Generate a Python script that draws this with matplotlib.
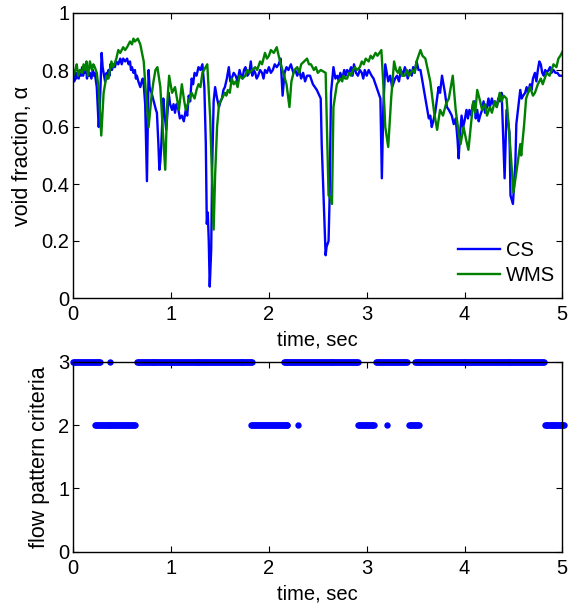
import matplotlib
matplotlib.use("Agg")
import matplotlib.pyplot as plt
import numpy as np

plt.rcParams['font.family'] = ['Liberation Sans', 'DejaVu Sans']
plt.rcParams['font.size'] = 14.5

# --- void fraction, capacitance sensor (CS) ---
t_cs = [0.00, 0.01, 0.02, 0.03, 0.04, 0.055, 0.07, 0.08, 0.09, 0.10, 0.11, 0.12,
        0.13, 0.14, 0.15, 0.16, 0.17, 0.185, 0.20, 0.21, 0.22, 0.24,
        0.26, 0.27, 0.28, 0.29, 0.30, 0.31, 0.325, 0.34, 0.35, 0.36, 0.37, 0.38,
        0.395, 0.41, 0.425, 0.44, 0.46, 0.48, 0.495, 0.51, 0.53,
        0.55, 0.565, 0.58, 0.59, 0.60, 0.615, 0.63, 0.64, 0.65, 0.665, 0.685, 0.70,
        0.71, 0.72, 0.735, 0.753, 0.77, 0.78,
        0.80, 0.815, 0.83, 0.845, 0.855, 0.87, 0.88, 0.89, 0.90, 0.92, 0.935, 0.95,
        0.965, 0.975, 0.99, 1.01, 1.025, 1.04, 1.055, 1.07, 1.09, 1.11, 1.13, 1.15,
        1.165, 1.18, 1.195, 1.21, 1.225, 1.24, 1.26, 1.28, 1.30,
        1.32, 1.34, 1.355, 1.365, 1.375, 1.385, 1.395, 1.41, 1.42, 1.435, 1.45, 1.47,
        1.49, 1.505, 1.52, 1.535, 1.55, 1.57, 1.59, 1.605, 1.62, 1.64, 1.66, 1.68,
        1.70, 1.715, 1.73, 1.745, 1.76, 1.78, 1.80, 1.815, 1.83, 1.845, 1.86,
        1.875, 1.89, 1.91, 1.93, 1.945, 1.96, 1.98, 2.00, 2.02, 2.04, 2.06, 2.08,
        2.10, 2.12, 2.14, 2.16, 2.18, 2.20, 2.225, 2.25, 2.27, 2.29,
        2.31, 2.33, 2.35, 2.37, 2.39, 2.42, 2.45, 2.47, 2.49, 2.53, 2.54, 2.56, 2.58,
        2.59, 2.61, 2.62, 2.635, 2.66, 2.68, 2.70, 2.715, 2.73, 2.75, 2.77, 2.785,
        2.80, 2.82, 2.84, 2.855, 2.87, 2.89, 2.91, 2.93, 2.95, 2.965, 2.98, 3.00,
        3.02, 3.05, 3.07, 3.10, 3.14, 3.155, 3.17, 3.19, 3.22, 3.24, 3.26, 3.29,
        3.31, 3.33, 3.35, 3.37, 3.39, 3.41, 3.42, 3.44, 3.46, 3.475, 3.49, 3.51,
        3.53, 3.55, 3.59, 3.62, 3.635, 3.65, 3.665, 3.68, 3.70, 3.72, 3.735,
        3.75, 3.77, 3.785, 3.80, 3.82, 3.84, 3.87, 3.89, 3.91, 3.93, 3.94, 3.955,
        3.97, 3.985, 4.00, 4.02, 4.035, 4.05, 4.07, 4.085, 4.10, 4.115, 4.13, 4.145,
        4.16, 4.18, 4.195, 4.21, 4.23, 4.245, 4.26, 4.28, 4.295, 4.31, 4.33, 4.345,
        4.36, 4.38, 4.41, 4.43, 4.46, 4.47, 4.495, 4.52, 4.53, 4.57, 4.585, 4.60,
        4.62, 4.635, 4.65, 4.67, 4.685, 4.70, 4.72, 4.735, 4.75, 4.765, 4.78, 4.795,
        4.81, 4.825, 4.84, 4.86, 4.875, 4.89, 4.91, 4.93, 4.95, 4.97, 5.00]
a_cs = [0.78, 0.76, 0.79, 0.77, 0.79, 0.77, 0.80, 0.78, 0.81, 0.78, 0.80, 0.79,
        0.81, 0.77, 0.80, 0.78, 0.79, 0.77, 0.80, 0.78, 0.79, 0.74,
        0.60, 0.66, 0.76, 0.86, 0.81, 0.79, 0.76, 0.79, 0.77, 0.80, 0.78, 0.82,
        0.80, 0.82, 0.81, 0.83, 0.82, 0.84, 0.82, 0.84, 0.83,
        0.84, 0.82, 0.83, 0.80, 0.81, 0.79, 0.80, 0.77, 0.78, 0.76, 0.74, 0.76,
        0.77, 0.75, 0.68, 0.41, 0.80, 0.74,
        0.72, 0.70, 0.68, 0.66, 0.65, 0.54, 0.45, 0.48, 0.54, 0.70, 0.64, 0.59,
        0.66, 0.72, 0.68, 0.66, 0.68, 0.65, 0.68, 0.67, 0.63, 0.64, 0.62, 0.66,
        0.64, 0.71, 0.69, 0.77, 0.75, 0.79, 0.78, 0.81, 0.80,
        0.82, 0.74, 0.54, 0.26, 0.30, 0.20, 0.04, 0.17, 0.46, 0.69, 0.74, 0.70,
        0.67, 0.69, 0.70, 0.73, 0.74, 0.77, 0.81, 0.76, 0.77, 0.79, 0.78, 0.76,
        0.80, 0.78, 0.77, 0.80, 0.81, 0.78, 0.79, 0.83, 0.78, 0.80, 0.79,
        0.77, 0.78, 0.80, 0.79, 0.77, 0.80, 0.79, 0.81, 0.79, 0.80, 0.82, 0.81,
        0.82, 0.84, 0.71, 0.79, 0.81, 0.80, 0.82, 0.79, 0.80, 0.78,
        0.80, 0.77, 0.79, 0.76, 0.78, 0.78, 0.75, 0.74, 0.73, 0.70, 0.54, 0.34, 0.15,
        0.18, 0.20, 0.34, 0.72, 0.81, 0.77, 0.78, 0.76, 0.79, 0.77, 0.80, 0.78,
        0.80, 0.79, 0.81, 0.78, 0.82, 0.79, 0.78, 0.80, 0.79, 0.77, 0.80, 0.78,
        0.80, 0.78, 0.77, 0.74, 0.70, 0.42, 0.67, 0.82, 0.76, 0.78, 0.74, 0.77,
        0.78, 0.76, 0.80, 0.78, 0.81, 0.79, 0.77, 0.80, 0.78, 0.81, 0.79, 0.83,
        0.80, 0.80, 0.72, 0.66, 0.63, 0.64, 0.60, 0.62, 0.65, 0.70, 0.74,
        0.72, 0.78, 0.75, 0.72, 0.67, 0.66, 0.64, 0.61, 0.63, 0.55, 0.49, 0.58,
        0.64, 0.60, 0.62, 0.66, 0.63, 0.66, 0.64, 0.68, 0.69, 0.63, 0.66, 0.62,
        0.64, 0.66, 0.69, 0.65, 0.67, 0.70, 0.67, 0.70, 0.68, 0.69, 0.67, 0.70,
        0.69, 0.72, 0.42, 0.66, 0.58, 0.36, 0.33, 0.47, 0.61, 0.73, 0.70, 0.71,
        0.72, 0.74, 0.72, 0.75, 0.73, 0.77, 0.79, 0.76, 0.80, 0.83, 0.82, 0.79,
        0.78, 0.80, 0.79, 0.80, 0.81, 0.79, 0.80, 0.79, 0.79, 0.78, 0.78]

# --- void fraction, wire-mesh sensor (WMS) ---
t_wms = [0.00, 0.02, 0.035, 0.05, 0.07, 0.09, 0.105, 0.12, 0.135, 0.15, 0.17, 0.19,
         0.205, 0.22, 0.24, 0.26, 0.286, 0.31, 0.34, 0.36, 0.375, 0.39, 0.405, 0.42,
         0.44, 0.46, 0.48, 0.51, 0.53, 0.55, 0.565, 0.58, 0.60, 0.615, 0.63,
         0.66, 0.685, 0.72, 0.74, 0.77, 0.80, 0.82, 0.84, 0.86, 0.89, 0.92, 0.94,
         0.96, 0.98, 1.01, 1.04, 1.06, 1.08, 1.11, 1.13, 1.15, 1.18, 1.21, 1.24,
         1.26, 1.28, 1.30, 1.32, 1.37, 1.40, 1.42, 1.435, 1.45, 1.47, 1.49, 1.52,
         1.55, 1.565, 1.58, 1.60, 1.62, 1.64, 1.66, 1.68, 1.70, 1.73, 1.76, 1.78,
         1.80, 1.83, 1.86, 1.88, 1.91, 1.93, 1.96, 1.98, 2.00, 2.02, 2.05, 2.08,
         2.10, 2.13, 2.18, 2.21, 2.23, 2.26, 2.29, 2.31, 2.33, 2.36, 2.39, 2.41,
         2.43, 2.46, 2.48, 2.50, 2.53, 2.58, 2.595, 2.61,
         2.635, 2.645, 2.66, 2.695, 2.73, 2.75, 2.76, 2.78, 2.80, 2.82, 2.84, 2.86,
         2.88, 2.90, 2.93, 2.95, 2.97, 2.99, 3.02, 3.04, 3.06, 3.09, 3.11, 3.13,
         3.15, 3.17, 3.19, 3.22, 3.25, 3.28, 3.30, 3.32, 3.34, 3.36,
         3.39, 3.41, 3.43, 3.45, 3.47, 3.49, 3.51, 3.53, 3.55, 3.57, 3.60, 3.65,
         3.69, 3.72, 3.75, 3.78, 3.81, 3.84, 3.88, 3.91, 3.94, 3.96, 3.99, 4.02,
         4.04, 4.07, 4.09, 4.11, 4.13, 4.16, 4.18, 4.21, 4.23, 4.26, 4.28, 4.31,
         4.33, 4.36, 4.38, 4.40, 4.43, 4.47, 4.50, 4.53, 4.57, 4.58, 4.61, 4.63,
         4.67, 4.70, 4.72, 4.75, 4.78, 4.80, 4.81, 4.84, 4.87, 4.89, 4.91, 4.94,
         4.96, 4.98, 5.01]
a_wms = [0.78, 0.80, 0.82, 0.78, 0.80, 0.79, 0.82, 0.80, 0.83, 0.78, 0.83, 0.80,
         0.82, 0.81, 0.79, 0.73, 0.57, 0.72, 0.78, 0.77, 0.80, 0.83, 0.81, 0.82,
         0.84, 0.87, 0.86, 0.88, 0.87, 0.88, 0.89, 0.90, 0.89, 0.91, 0.90,
         0.91, 0.89, 0.83, 0.73, 0.60, 0.71, 0.76, 0.80, 0.81, 0.74, 0.56, 0.45,
         0.68, 0.78, 0.72, 0.74, 0.70, 0.66, 0.75, 0.70, 0.66, 0.69, 0.72, 0.70,
         0.73, 0.75, 0.74, 0.79, 0.82, 0.63, 0.40, 0.24, 0.43, 0.60, 0.68, 0.70,
         0.72, 0.71, 0.73, 0.72, 0.77, 0.75, 0.76, 0.74, 0.78, 0.77, 0.78, 0.80,
         0.79, 0.80, 0.81, 0.80, 0.83, 0.82, 0.86, 0.84, 0.85, 0.87, 0.86, 0.88,
         0.85, 0.81, 0.75, 0.67, 0.76, 0.80, 0.81, 0.79, 0.82, 0.83, 0.84, 0.82,
         0.82, 0.80, 0.81, 0.79, 0.80, 0.79, 0.58, 0.36,
         0.35, 0.33, 0.67, 0.75, 0.77, 0.76, 0.78, 0.77, 0.77, 0.79, 0.78, 0.80,
         0.81, 0.80, 0.81, 0.83, 0.82, 0.84, 0.83, 0.85, 0.84, 0.86, 0.85, 0.86,
         0.87, 0.75, 0.60, 0.53, 0.70, 0.83, 0.80, 0.79, 0.81, 0.78,
         0.78, 0.80, 0.78, 0.79, 0.80, 0.79, 0.83, 0.85, 0.87, 0.85, 0.84, 0.76,
         0.65, 0.59, 0.66, 0.64, 0.68, 0.70, 0.78, 0.66, 0.58, 0.54, 0.60, 0.55,
         0.52, 0.62, 0.69, 0.65, 0.73, 0.69, 0.66, 0.68, 0.64, 0.67, 0.65, 0.69,
         0.67, 0.72, 0.69, 0.71, 0.70, 0.52, 0.37, 0.44, 0.54, 0.50, 0.61, 0.70,
         0.74, 0.71, 0.72, 0.75, 0.77, 0.75, 0.76, 0.79, 0.78, 0.80, 0.82, 0.81,
         0.84, 0.85, 0.87]

# --- flow pattern criteria: runs of (start, end, level) ---
run_start = [0.00, 0.38, 0.65, 2.15, 3.10, 3.49, 0.22, 1.82, 2.30, 2.91, 3.21, 3.43, 4.82]
run_end   = [0.27, 0.38, 1.83, 2.91, 3.41, 4.81, 0.63, 2.19, 2.30, 3.07, 3.21, 3.53, 5.02]
run_level = [3, 3, 3, 3, 3, 3, 2, 2, 2, 2, 2, 2, 2]
dt = 0.01

t_fp, fp = [], []
for s, e, lv in zip(run_start, run_end, run_level):
    tt = np.arange(s, e + dt / 2, dt)
    t_fp.extend(tt)
    fp.extend([lv] * len(tt))

fig = plt.figure(figsize=(5.72, 6.03), dpi=100)
ax1 = fig.add_axes([73.3 / 572, 1 - 298 / 603, 489 / 572, 285 / 603])
ax2 = fig.add_axes([73.3 / 572, 1 - 551.7 / 603, 489 / 572, 190 / 603])

ax1.plot(t_cs, a_cs, color=(0, 0, 1), lw=1.7, label='CS')
ax1.plot(t_wms, a_wms, color=(0, 0.5, 0), lw=1.7, label='WMS')
ax1.set_xlim(0, 5)
ax1.set_ylim(0, 1)
ax1.set_yticks([0, 0.2, 0.4, 0.6, 0.8, 1])
ax1.set_yticklabels(['0', '0.2', '0.4', '0.6', '0.8', '1'])
ax1.set_xlabel('time, sec', labelpad=5)
ax1.set_ylabel('void fraction, α', fontsize=15.5, labelpad=6)
ax1.legend(loc='lower right', bbox_to_anchor=(1.006, 0.01), frameon=False,
           handlelength=2.1, handletextpad=0.3, labelspacing=0.3, borderaxespad=0.1)

ax2.plot(t_fp, fp, 'o', color=(0, 0, 1), ms=4.6, mew=0, clip_on=False)
ax2.set_xlim(0, 5)
ax2.set_ylim(0, 3)
ax2.set_yticks([0, 1, 2, 3])
ax2.set_xlabel('time, sec', labelpad=5)
ax2.set_ylabel('flow pattern criteria', fontsize=15.5, labelpad=6)

for ax in (ax1, ax2):
    ax.set_xticks([0, 1, 2, 3, 4, 5])
    ax.tick_params(direction='in', length=4, width=0.8, top=True, right=True)
    ax.tick_params(axis='x', pad=5)
    ax.tick_params(axis='y', pad=3)
    for sp in ax.spines.values():
        sp.set_linewidth(1.0)

fig.savefig('out.png', dpi=100)
